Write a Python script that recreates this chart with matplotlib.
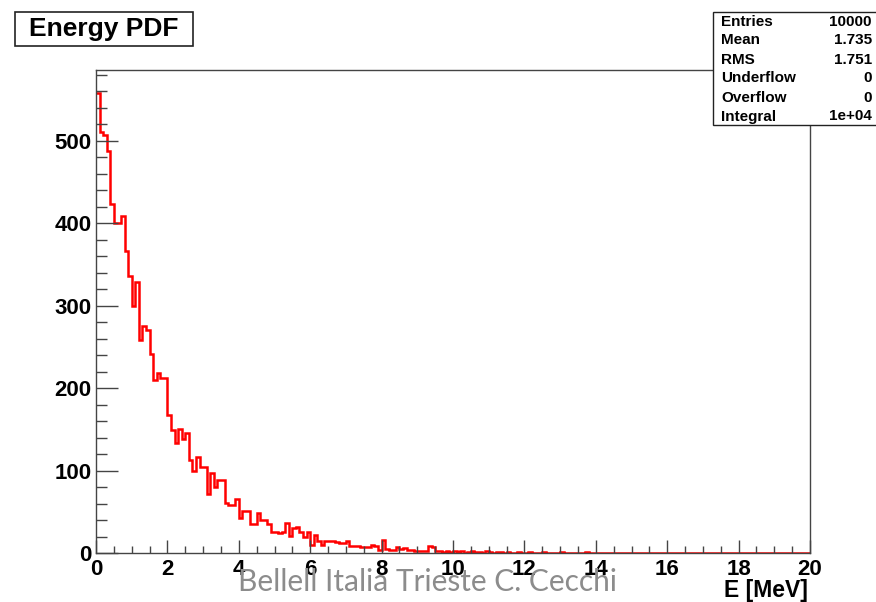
import numpy as np
import matplotlib.pyplot as plt
from matplotlib.patches import Rectangle
from matplotlib.ticker import MultipleLocator

plt.rcParams['font.family'] = ['Liberation Sans', 'DejaVu Sans']

# histogram: 200 bins of 0.1 MeV from 0 to 20
e_lo, e_hi, n_bins = 0.0, 20.0, 200
counts = [
    558, 511, 507, 488, 424, 400, 400, 409, 366, 336,
    300, 329, 258, 275, 271, 242, 210, 218, 212, 212,
    167, 149, 133, 151, 138, 146, 113, 99, 116, 104,
    104, 72, 97, 80, 89, 88, 61, 58, 58, 65,
    43, 51, 51, 35, 35, 49, 40, 40, 35, 26,
    26, 24, 25, 37, 21, 30, 32, 26, 19, 25,
    10, 22, 14, 10, 15, 15, 14, 13, 12, 12,
    14, 9, 8, 8, 7, 7, 7, 10, 9, 4,
    16, 5, 4, 4, 7, 5, 6, 4, 4, 3,
    3, 3, 2, 8, 7, 2, 2, 1, 2, 1,
    2, 1, 2, 0, 1, 2, 1, 1, 0, 2,
    1, 0, 1, 1, 0, 1, 0, 0, 1, 0,
    0, 1, 0, 0, 0, 1, 0, 0, 0, 0,
    1, 0, 0, 0, 0, 0, 0, 1, 0, 0,
    0, 0, 0, 0, 0, 0, 0, 0, 0, 0,
    0, 0, 0, 0, 0, 0, 0, 0, 0, 0,
    0, 0, 0, 0, 0, 0, 0, 0, 0, 0,
    0, 0, 0, 0, 0, 0, 0, 0, 0, 0,
    0, 0, 0, 0, 0, 0, 0, 0, 0, 0,
    0, 0, 0, 0, 0, 0, 0, 0, 0, 0,
]

stat_names = ['Entries', 'Mean', 'RMS', 'Underflow', 'Overflow', 'Integral']
stat_values = ['10000', '1.735', '1.751', '0', '0', '1e+04']

W, H = 876, 602
fig = plt.figure(figsize=(W / 100, H / 100), dpi=100)
ax = fig.add_axes([96 / W, 1 - 553 / H, (810 - 96) / W, (553 - 70) / H])

edges = np.linspace(e_lo, e_hi, n_bins + 1)
ax.stairs(counts, edges, color='red', lw=1.8, baseline=None)

ax.set_xlim(e_lo, e_hi)
ax.set_ylim(0, 586)
ax.xaxis.set_major_locator(MultipleLocator(2))
ax.xaxis.set_minor_locator(MultipleLocator(0.5))
ax.yaxis.set_major_locator(MultipleLocator(100))
ax.yaxis.set_minor_locator(MultipleLocator(20))

frame_col = '#444444'
for s in ax.spines.values():
    s.set_color(frame_col)
    s.set_linewidth(1.0)

ax.tick_params(axis='x', which='major', direction='in', length=9.5, width=1,
               color=frame_col, pad=4, labelsize=16)
ax.tick_params(axis='x', which='minor', direction='in', length=5, width=1,
               color=frame_col)
ax.tick_params(axis='y', which='major', direction='in', length=15.5, width=1,
               color=frame_col, pad=3, labelsize=16)
ax.tick_params(axis='y', which='minor', direction='in', length=8, width=1,
               color=frame_col)
for lab in ax.get_xticklabels() + ax.get_yticklabels():
    lab.set_fontweight('bold')

fig.text(808 / W, 1 - 591 / H, 'E [MeV]', ha='right', va='center',
         fontsize=16.5, fontweight='bold')

# title box
fig.add_artist(Rectangle((15 / W, 1 - 46 / H), (193 - 15) / W, 34 / H,
                         transform=fig.transFigure, facecolor='white',
                         edgecolor='#222222', lw=1.2))
fig.text(104 / W, 1 - 29 / H, 'Energy PDF', ha='center', va='center',
         fontsize=19, fontweight='bold')

# statistics box
fig.add_artist(Rectangle((713 / W, 1 - 125 / H), (880 - 713) / W, 113 / H,
                         transform=fig.transFigure, facecolor='white',
                         edgecolor='#222222', lw=1.0, zorder=2))
for i, (name, val) in enumerate(zip(stat_names, stat_values)):
    y = 1 - (21.5 + i * 19) / H
    fig.text(721 / W, y, name, ha='left', va='center', fontsize=11,
             fontweight='bold', zorder=3)
    fig.text(872 / W, y, val, ha='right', va='center', fontsize=11,
             fontweight='bold', zorder=3)

fig.text(427 / W, 1 - 582 / H, 'Bellell Italia Trieste C. Cecchi',
         ha='center', va='center', fontsize=21.5, color='#8c8c8c',
         family=['Lato', 'DejaVu Sans'], zorder=4)

fig.savefig('out.png', dpi=100)
